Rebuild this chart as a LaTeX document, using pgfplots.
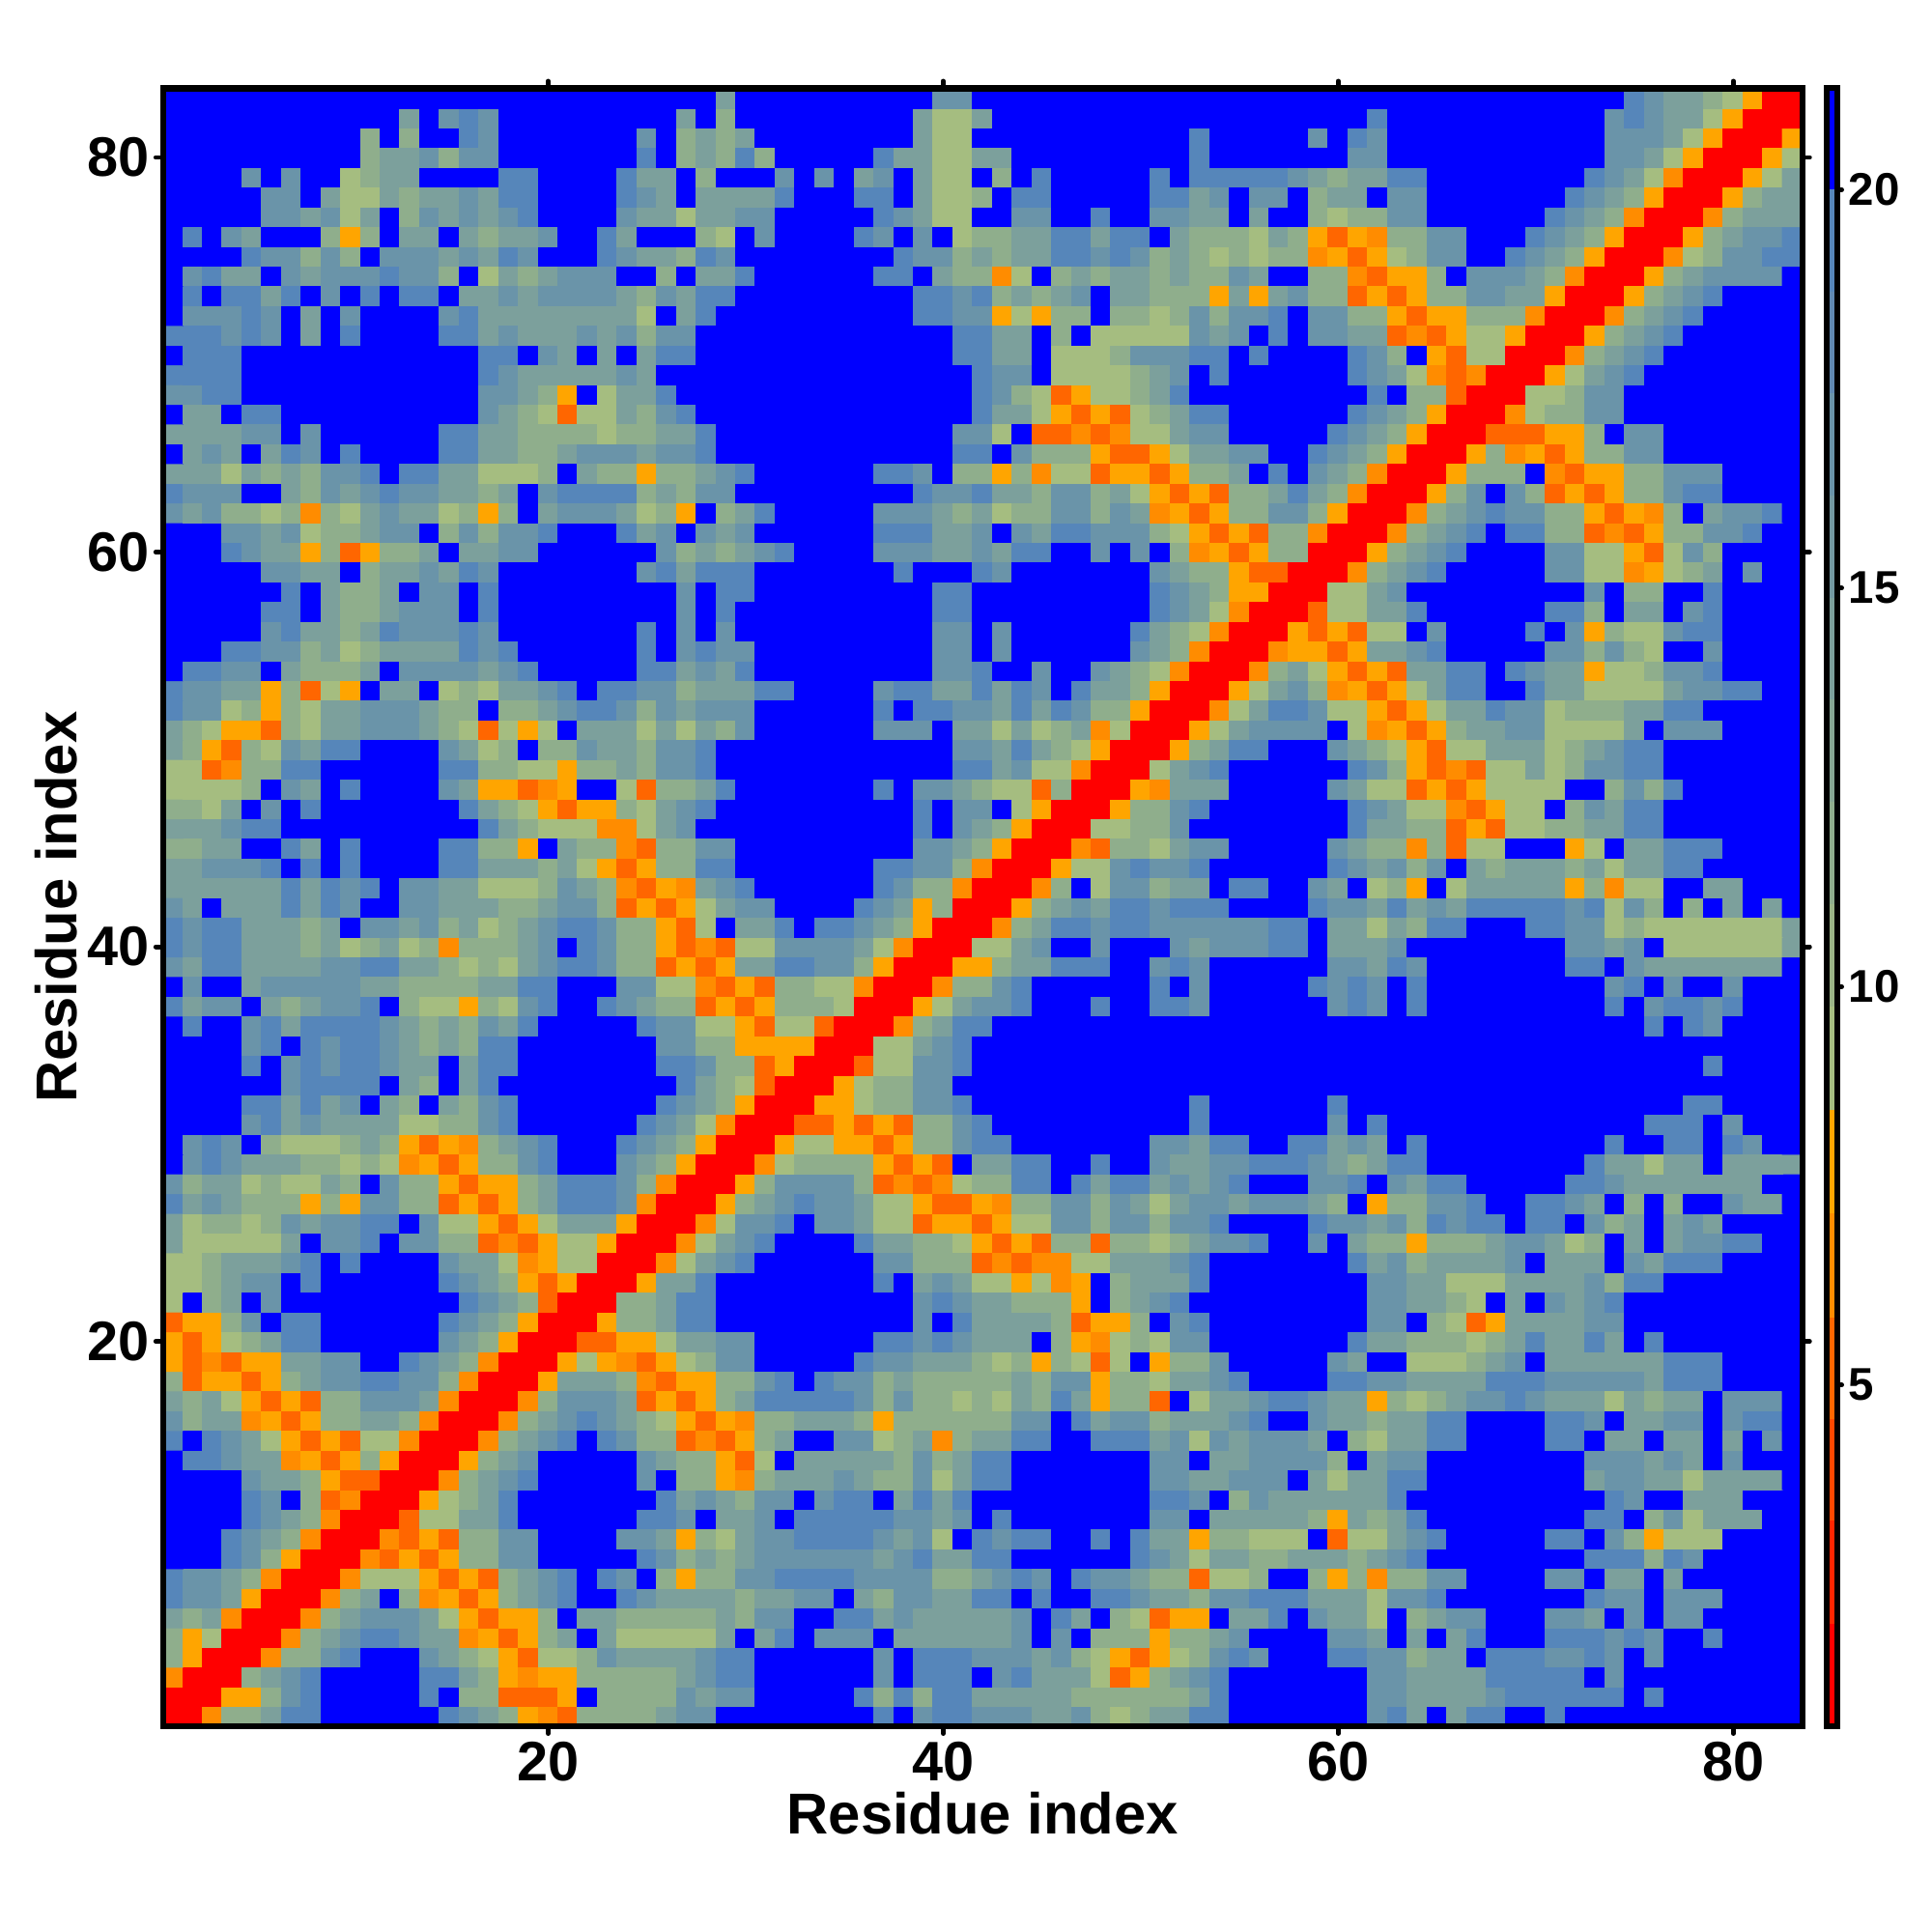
\documentclass[border=0pt]{standalone}
\usepackage{fontspec}
\setmainfont{Liberation Sans}
\usepackage{pgfplots}
\pgfplotsset{compat=1.18}
% cell codes, one digit per residue column: 0 red ... 9 blue
\newcount\cx \newcount\cy
\def\data{}
\def\scan#1{\ifx#1\relax\else\global\advance\cx by 1 \ifnum\cx<84 \xdef\cur{\cur(\the\cx,\the\cy)[#1]}\fi\expandafter\scan\fi}
\def\pad{\ifnum\cx<83 \global\advance\cx by 1 \xdef\cur{\cur(\the\cx,\the\cy)[9]}\expandafter\pad\fi}
\def\R#1{\global\cx=0 \gdef\cur{}\scan#1\relax\pad\xdef\data{\cur\data}\global\advance\cy by -1 }
\global\cy=83
\R{9999999999 9999999999 9999999969 9999999997 7999999999 9999999999 9999999999 9999876654 300}
\R{9999999999 9969787999 9999996959 9999999964 4699999999 9999999999 9899999999 9997876643 000}
\R{9999999999 5959987999 9999795656 9999999964 4999999999 9989999979 8799999999 9997776430 003}
\R{9999999999 5667577999 9999895658 5999998664 4669999999 9989999999 7799999999 9997764300 034}
\R{9999797994 5669999889 9998669599 9797967964 4959899999 8988888765 6688999999 9987642000 346}
\R{9999977964 4656676889 9998769666 6899988964 4598899999 8867977956 6977999999 9876530003 566}
\R{9999977674 6957676789 9997664667 7999998764 4997799899 7766969954 5577999999 8765200025 666}
\R{9897699953 5966965667 9986999549 7999987979 4556688688 9655546531 3255779998 7653000356 778}
\R{9999877575 9777676879 9987665879 9999999877 5656688787 5654545523 1345779987 6530002457 788}
\R{9786697677 7877594656 7779959668 9999998896 5524956566 5655769955 2133597776 5200035677 779}
\R{9898868979 8988966767 7776576889 9999999988 7856567966 5553636755 1313557766 3000356789 999}
\R{9777879697 9999786666 6666496899 9999999988 7734355955 4575778977 5531335552 0002567899 999}
\R{8887879698 9999886766 6767577999 9999999999 8866959444 4476798977 6612134430 0035678999 999}
\R{9888999999 9999998897 6969688999 9999999999 8866944457 7788989999 8759314400 0256789999 999}
\R{8888999999 9999998766 6667699999 9999999999 9877944445 6798999999 8764212000 3467899999 999}
\R{7788999999 9999997765 3946689999 9999999999 9875413445 6899999999 9895510004 4577999999 999}
\R{9669889999 9999997654 1446578999 9999999999 9866431314 5688999999 8765300024 5577999999 999}
\R{6666779799 9999886655 5545566899 9999999999 7749112124 4677999998 7653000111 3359779999 999}
\R{9676968798 9999886655 6777677899 9999999999 8897555311 3466779987 6530003523 1355779999 999}
\R{6664656577 8988664445 9655355678 9999998879 5535244133 1355698976 5200035559 2133557779 999}
\R{8777996576 7877665697 8888565779 9999999987 7866577564 3131556865 2000357975 1313557889 999}
\R{7675545254 6766453596 7776453956 8999997776 5645577576 2313557753 0002567877 5531325967 789}
\R{9997767455 6779575778 9998679767 9999998886 6797688777 5431315520 0025678988 5512135577 899}
\R{9998766351 3556966779 9999975656 7899997776 6768899797 9523135500 0356789999 7744314759 999}
\R{9999977669 5667687999 9999786888 9999999899 9879999999 7655311000 2567899999 7744234569 799}
\R{9999998965 5697798999 9999997988 9999999998 8999999999 8765330004 4679999999 9979559989 999}
\R{9999988965 5677798999 9999997989 9999999998 8999999999 8764200014 4668999999 8859669789 999}
\R{9999978665 6877787999 9999897979 9999999997 7979999998 6542000313 1449799998 9735447889 999}
\R{9998877564 5666687899 9999897877 9999999997 7979999997 6520002331 3667899999 7757549979 999}
\R{9887796555 6977776789 9999886768 9999999997 7899799765 4200025643 1316688987 6634457789 999}
\R{8776635143 9669454667 8988775666 8899997886 6868798665 3000346752 3134688998 6644446778 899}
\R{8774535466 7776559556 7887576777 9999998988 7768687553 0002468874 4313466877 4555668899 999}
\R{6543315466 7776541434 9666464657 9999997779 6646456240 0034677779 4231356677 4444697779 999}
\R{6531547688 9999764595 5766577899 9999999999 7768654300 0356889997 6543144666 4567889999 999}
\R{4412558899 9999885544 3556577899 9999999999 8867442000 4678999999 8753121446 4577889999 999}
\R{4444597698 9999763312 3994155689 9999998977 6544150003 2666999997 6441313444 4995758999 999}
\R{5546979899 9999986543 1335467899 9999999989 7794300035 5789999999 8764421344 9576889999 999}
\R{6667889999 9999998654 4422467999 9999999989 7653000445 5799999999 8665513144 5566889999 999}
\R{5566998698 9999885539 6552155779 9999999977 6530002155 4677999997 6552514499 9349668889 999}
\R{6677789898 9999886665 6431355889 9999998877 5200034478 7789999998 7675796566 6564668899 999}
\R{6666668687 8977664445 7652132678 9999998755 2000259477 5669889976 9453946666 6352449966 999}
\R{7696668687 9977666556 7751313467 7999987635 0003567688 7888999987 7686768888 8784759596 969}
\R{8788666569 7767564567 8875531496 6898876530 0025688788 7777778896 6465889998 8774544444 446}
\R{8788666564 5645255567 9875531214 4777764200 0446799799 9767778896 6679999999 9776794444 446}
\R{7688666677 8866545467 8875513136 6887753000 3356688899 7879999997 7687999999 9889766666 669}
\R{9799677777 6655556688 9997744213 1554420002 5578999999 8979999987 8798999999 9997897997 999}
\R{8677965677 8954435478 9987655131 3555400034 6778999899 8879999997 8798999999 9998978878 999}
\R{9899786888 8765657689 9999877443 1441000256 8899999999 9999999999 9999999999 9999989879 999}
\R{9999789878 8765658899 9999977553 3330004467 8999999999 9999999999 9999999999 9999999999 999}
\R{9999897878 8766968899 9999988755 1300014477 8999999999 9999999999 9999999999 9999999989 999}
\R{9999997888 8965968999 9999998654 1000345577 9999999999 9999999999 9999999999 9999999999 999}
\R{9999886867 9659657899 9999987653 0003345577 8999999999 9989999998 9999999999 9999999889 999}
\R{9999786766 6644557899 9999876420 0011313155 7899999999 9989999997 9899999999 9999988897 999}
\R{9787954445 6531325678 9998765300 0344331355 7889999999 7768899886 7698999999 9998998898 799}
\R{9787666554 5423135578 9997653000 2455553131 9668899899 7667788876 5688999999 9986646696 666}
\R{7566454465 9755313356 8887520003 5777751212 4558898688 6767899977 8976889999 9887666666 699}
\R{8676555353 7755131356 8887200035 6787764431 1325577576 4677677765 9355778998 8769595997 669}
\R{6455457677 8897443134 6663000247 7897764413 3134477577 5778999987 7675878898 8975696769 999}
\R{6444446977 8977551213 4430002467 8999986655 4313155155 4567789979 6553555677 6459696778 899}
\R{4456667898 9999766423 4400024678 9999997755 5121224466 6789999999 8675666679 6669768889 999}
\R{4456779899 9999876531 3000366899 9999998967 6443423956 6689999999 9776644466 6675889999 999}
\R{4956979999 9999987651 0005568899 9999999978 7665553956 7899999999 9776654969 7678999999 999}
\R{1335798899 9999876530 0035568899 9999999979 8666651335 9789999999 9779541366 6677999999 999}
\R{3134568899 9999765300 0113346677 9999998878 7666953245 4779999999 8665554568 6686989999 999}
\R{3121336677 9987652000 3432134577 9999987766 6545354149 3557999997 6994445679 6666668889 999}
\R{5133135677 8877520003 6665213355 7898775655 5556577355 4667899998 8776666888 7777768889 999}
\R{6564313155 7776200025 7776131356 8888875755 4546586355 1946678876 6354567787 6664656697 779}
\R{7566231355 6652000256 7876543132 5566653555 5557798677 5666789976 6566889999 8879667797 889}
\R{8987643131 4420002567 8987551213 5699774562 5668899888 6747677769 5466889999 8896696696 979}
\R{9887662313 5300035679 9999765531 4966666575 6889999999 7796677775 9677999999 9977767697 999}
\R{9999766531 1000256789 9999795532 5666765574 6889999999 7766777964 6688999999 9967766466 669}
\R{9999879512 0003456899 9999986765 7797889686 8999999999 8879576666 6689999999 9998799666 999}
\R{9999876520 0014466899 9999887966 7988888776 7989999999 7796666653 6568999999 9988957466 699}
\R{9998765200 0213155779 9997763546 7788887674 9878899898 6635544491 4467899999 8897534449 999}
\R{9998753000 2131355779 9999875656 7777776786 6889999998 7646655666 5678999999 9988858799 999}
\R{8776520002 4443131567 8987953557 7888877775 5678798776 5514459953 5255779999 7796696999 999}
\R{8776300025 6952313567 8998766665 6677965776 6889899887 6657788866 6477899999 9987797779 999}
\R{6562000256 7776431335 9665555565 7799886766 6667986954 1339668976 6495677999 7769797799 999}
\R{5340002567 8876623135 6964444469 6897779666 6667979555 3556799997 7696968999 8887879989 999}
\R{5300025578 9997654314 4576666788 9999997988 8777675431 3457879998 8775669888 7787979999 999}
\R{2000567899 9998865323 3555556788 9999997988 8978666413 5678999999 9776666888 8897999999 999}
\R{0003357899 9998955111 3955557677 9999985858 8666665555 5568999999 9776666788 8888989999 999}
\R{0025568899 9999876532 1555567799 9999998978 8777667545 6688999999 9786968899 8999999999 999}
\edef\heatplot{\noexpand\addplot[matrix plot*, mesh/cols=83, point meta=explicit, colormap access=direct] coordinates {\data};}
\definecolor{l1}{HTML}{FF0000}\definecolor{l2}{HTML}{FF2500}\definecolor{l3}{HTML}{FF4800}
\definecolor{l4}{HTML}{FF6600}\definecolor{l5}{HTML}{FF8C00}\definecolor{l6}{HTML}{FFA500}
\definecolor{l7}{HTML}{A5BD80}\definecolor{l8}{HTML}{9AB486}\definecolor{l9}{HTML}{8FAD8C}
\definecolor{l10}{HTML}{86A693}\definecolor{l11}{HTML}{7CA09C}\definecolor{l12}{HTML}{7399A2}
\definecolor{l13}{HTML}{6A94A9}\definecolor{l14}{HTML}{6089B2}\definecolor{l15}{HTML}{5686BA}
\definecolor{l16}{HTML}{0000FF}
\begin{document}
\begin{tikzpicture}
\useasboundingbox (-1.688,-2.13) rectangle ++(20,20);
\begin{axis}[
  at={(0,0)}, anchor=south west, scale only axis, width=16.97cm, height=16.955cm,
  xmin=0.5, xmax=83.5, ymin=0.5, ymax=83.5,
  xtick={20,40,60,80}, ytick={20,40,60,80},
  tick align=outside, major tick length=0.75mm,
  every tick/.style={black, line width=1.4pt, line cap=round},
  axis line style={line width=1.8pt},
  axis on top,
  /pgf/number format/assume math mode=true,
  tick label style={font=\fontsize{16.4}{16.4}\selectfont\bfseries},
  xticklabel style={yshift=0.4mm},
  yticklabel style={xshift=0.55mm},
  label style={font=\fontsize{17}{17}\selectfont\bfseries},
  xlabel={Residue index}, ylabel={Residue index},
  xlabel style={yshift=1.25mm},
  ylabel style={yshift=-1.35mm},
  colormap={hm}{rgb255=(255,0,0) rgb255=(255,102,0) rgb255=(255,140,0) rgb255=(255,165,0) rgb255=(165,189,128) rgb255=(143,174,140) rgb255=(124,160,156) rgb255=(106,148,169) rgb255=(86,134,186) rgb255=(0,0,255)},
]
\heatplot
\end{axis}
\begin{axis}[
  at={(17.217cm,0)}, anchor=south west, scale only axis, width=0.115cm, height=16.955cm,
  xmin=0, xmax=1, ymin=0.72, ymax=21.27, xtick=\empty,
  ytick={5,10,15,20}, ytick pos=right, yticklabel pos=right,
  tick align=outside, major tick length=0.45mm,
  every tick/.style={black, line width=1.4pt, line cap=round},
  axis line style={line width=1.7pt},
  axis on top,
  /pgf/number format/assume math mode=true,
  tick label style={font=\fontsize{13.5}{13.5}\selectfont\bfseries},
  yticklabel style={xshift=-0.5mm},
]
\addplot[fill=l1,draw=none] coordinates {(0,0.72)(1,0.72)(1,2.0)(0,2.0)} --cycle;
\addplot[fill=l2,draw=none] coordinates {(0,2.0)(1,2.0)(1,3.3)(0,3.3)} --cycle;
\addplot[fill=l3,draw=none] coordinates {(0,3.3)(1,3.3)(1,4.58)(0,4.58)} --cycle;
\addplot[fill=l4,draw=none] coordinates {(0,4.58)(1,4.58)(1,5.85)(0,5.85)} --cycle;
\addplot[fill=l5,draw=none] coordinates {(0,5.85)(1,5.85)(1,7.15)(0,7.15)} --cycle;
\addplot[fill=l6,draw=none] coordinates {(0,7.15)(1,7.15)(1,8.45)(0,8.45)} --cycle;
\addplot[fill=l7,draw=none] coordinates {(0,8.45)(1,8.45)(1,9.75)(0,9.75)} --cycle;
\addplot[fill=l8,draw=none] coordinates {(0,9.75)(1,9.75)(1,11.03)(0,11.03)} --cycle;
\addplot[fill=l9,draw=none] coordinates {(0,11.03)(1,11.03)(1,12.32)(0,12.32)} --cycle;
\addplot[fill=l10,draw=none] coordinates {(0,12.32)(1,12.32)(1,13.6)(0,13.6)} --cycle;
\addplot[fill=l11,draw=none] coordinates {(0,13.6)(1,13.6)(1,14.88)(0,14.88)} --cycle;
\addplot[fill=l12,draw=none] coordinates {(0,14.88)(1,14.88)(1,16.16)(0,16.16)} --cycle;
\addplot[fill=l13,draw=none] coordinates {(0,16.16)(1,16.16)(1,17.44)(0,17.44)} --cycle;
\addplot[fill=l14,draw=none] coordinates {(0,17.44)(1,17.44)(1,18.72)(0,18.72)} --cycle;
\addplot[fill=l15,draw=none] coordinates {(0,18.72)(1,18.72)(1,20.0)(0,20.0)} --cycle;
\addplot[fill=l16,draw=none] coordinates {(0,20.0)(1,20.0)(1,21.27)(0,21.27)} --cycle;
\end{axis}
\end{tikzpicture}
\end{document}
